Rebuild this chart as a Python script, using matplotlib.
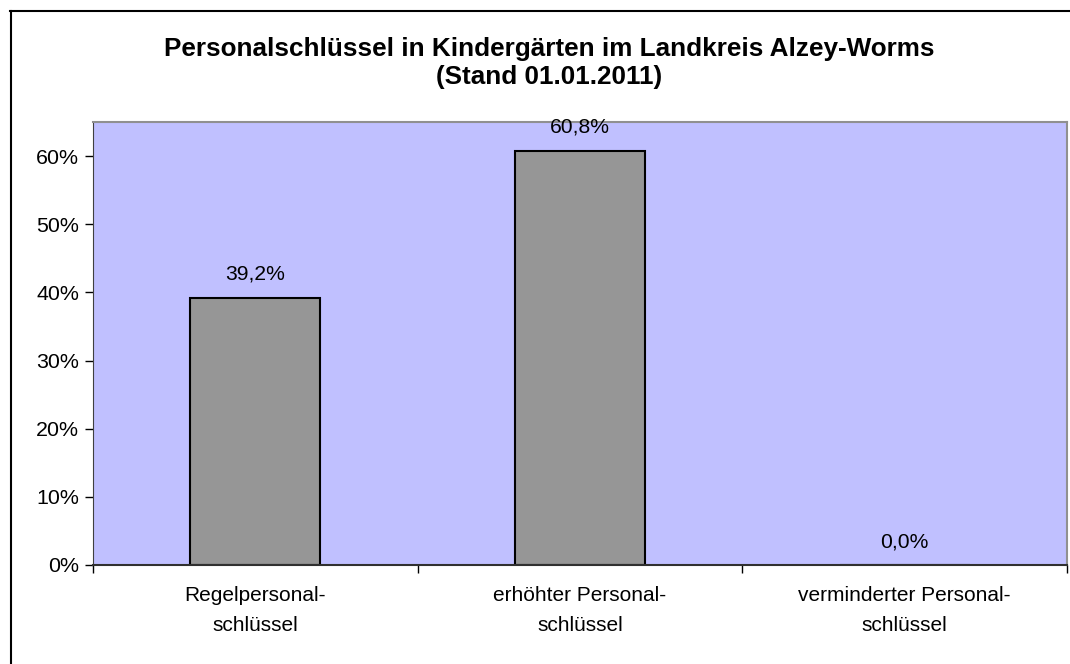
import matplotlib
matplotlib.use('Agg')
import matplotlib.pyplot as plt
from matplotlib.lines import Line2D
from matplotlib.ticker import FuncFormatter, FixedLocator

plt.rcParams['font.family'] = ['Liberation Sans', 'DejaVu Sans']

# data
categories = ['Regelpersonal-\nschlüssel', 'erhöhter Personal-\nschlüssel', 'verminderter Personal-\nschlüssel']
values = [0.392, 0.608, 0.0]
value_labels = ['39,2%', '60,8%', '0,0%']
title = 'Personalschlüssel in Kindergärten im Landkreis Alzey-Worms\n(Stand 01.01.2011)'

W, H = 1070, 664
fig = plt.figure(figsize=(W / 100, H / 100), dpi=100)

# chart frame (only left and top visible)
fig.add_artist(Line2D([10.5 / W, 10.5 / W], [0, 1 - 10.5 / H], color='black', lw=1.5))
fig.add_artist(Line2D([10 / W, 1], [1 - 10.5 / H, 1 - 10.5 / H], color='black', lw=1.5))

ax = fig.add_axes([93 / W, (H - 565) / H, (1067 - 93) / W, (565 - 122) / H])
ax.set_facecolor('#C0C0FF')

x = list(range(len(categories)))
ax.bar(x, values, width=0.4, color='#969696', edgecolor='black', linewidth=1.5, zorder=2)

for xi, v, lab in zip(x, values, value_labels):
    ax.annotate(lab, (xi, v), xytext=(0, 10), textcoords='offset points',
                ha='center', va='bottom', fontsize=15.2)

ax.set_xlim(-0.5, 2.5)
ax.set_ylim(0, 0.65)
ax.set_yticks([0, 0.1, 0.2, 0.3, 0.4, 0.5, 0.6])
ax.yaxis.set_major_formatter(FuncFormatter(lambda v, p: '%d%%' % round(v * 100)))
ax.tick_params(axis='y', labelsize=15.4, length=6, width=1, direction='out', pad=4)

# category boundary ticks, labels in between
ax.xaxis.set_major_locator(FixedLocator([-0.5, 0.5, 1.5, 2.5]))
ax.xaxis.set_major_formatter(FuncFormatter(lambda v, p: ''))
ax.xaxis.set_minor_locator(FixedLocator(x))
ax.set_xticklabels(categories, minor=True)
ax.tick_params(axis='x', which='major', length=6, width=1, direction='out')
ax.tick_params(axis='x', which='minor', length=0, labelsize=15, pad=15)
for t in ax.get_xticklabels(minor=True):
    t.set_linespacing(1.75)

ax.spines['left'].set_color('#404040')
ax.spines['bottom'].set_color('#303030')
ax.spines['bottom'].set_linewidth(1.5)
ax.spines['top'].set_color('#909090')
ax.spines['right'].set_color('#909090')
ax.spines['top'].set_linewidth(1.5)
ax.spines['right'].set_linewidth(1.5)

fig.text(549 / W, 1 - 63 / H, title, ha='center', va='center', fontsize=18.8,
         fontweight='bold', linespacing=1.25)

plt.savefig('out.png', dpi=100)
